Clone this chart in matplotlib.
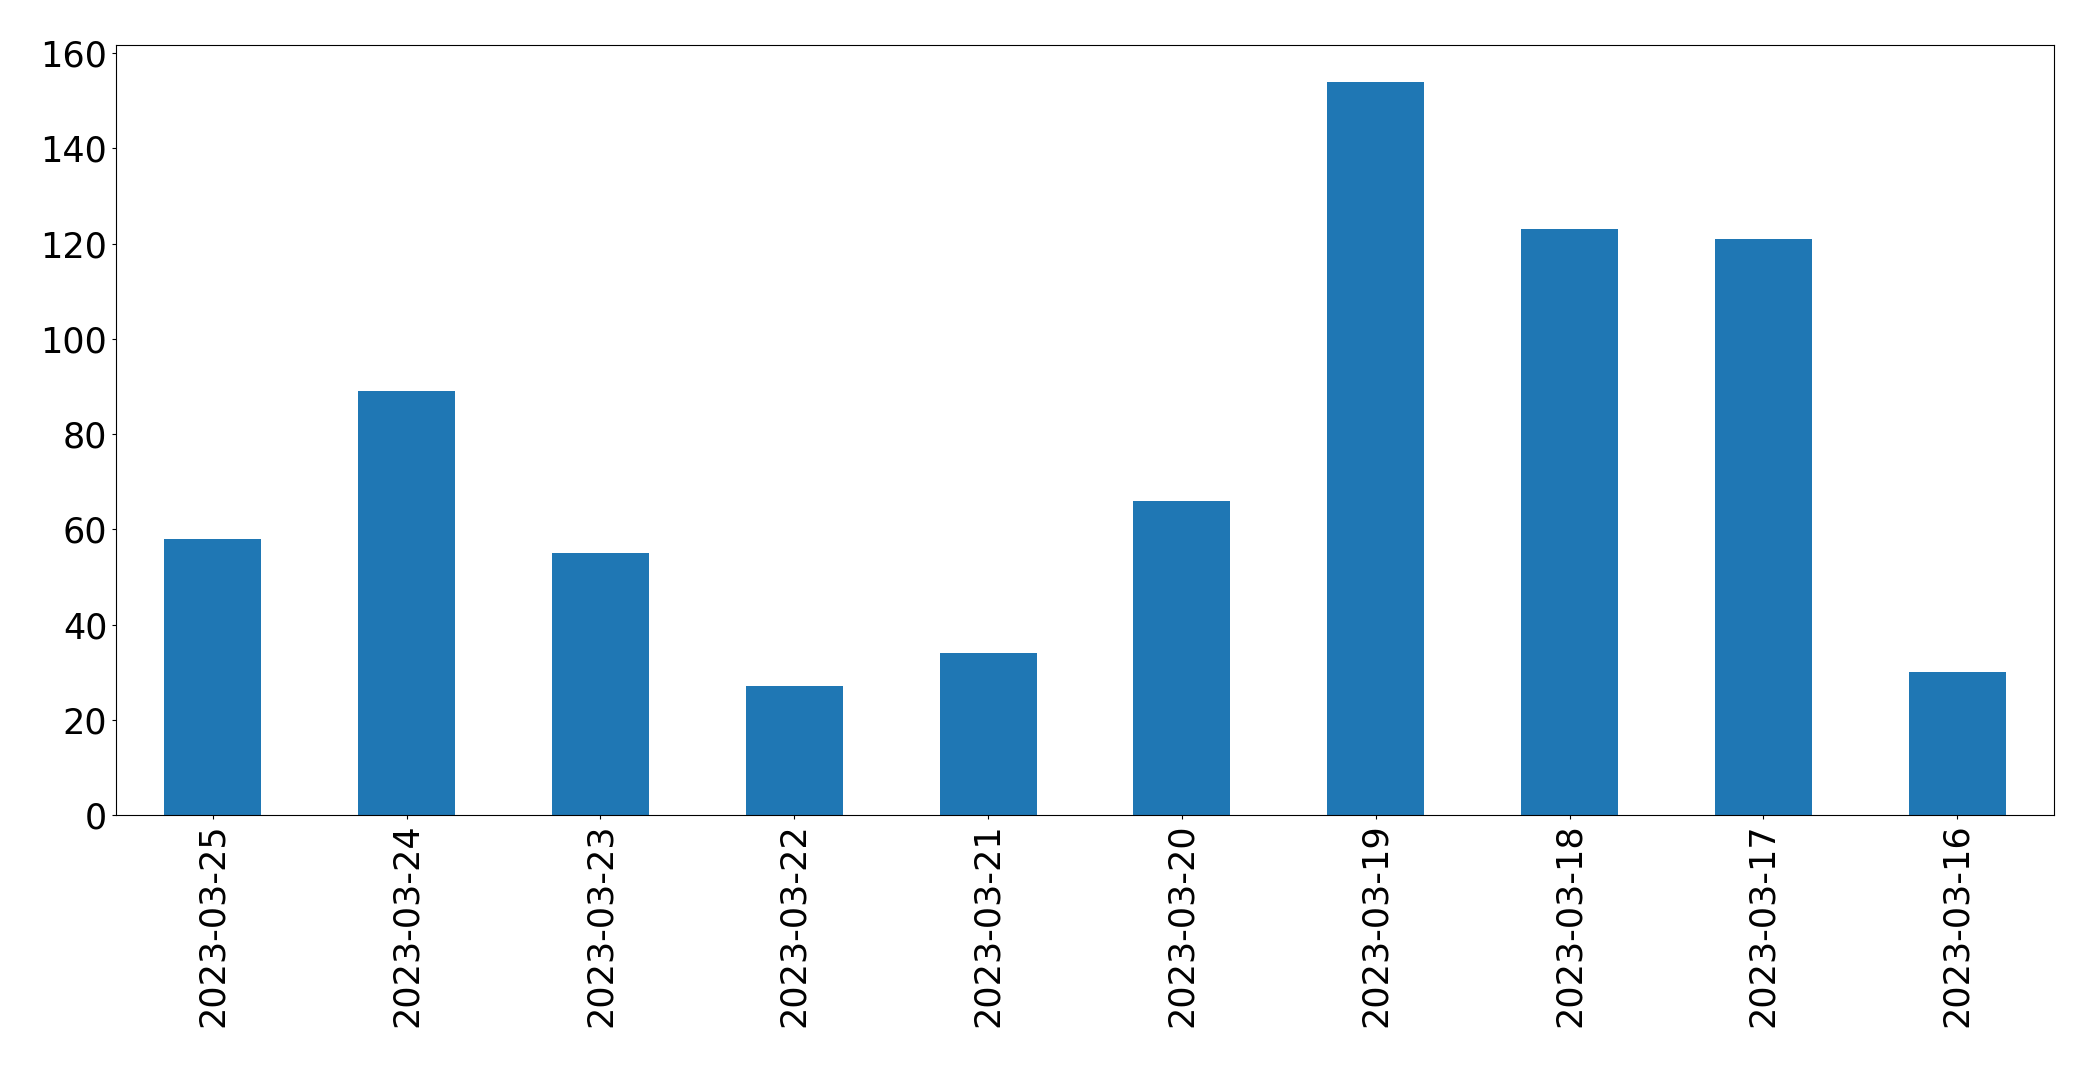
import matplotlib
matplotlib.use("Agg")
import matplotlib.pyplot as plt
import pandas as pd

# Data
dates = ["2023-03-25", "2023-03-24", "2023-03-23", "2023-03-22", "2023-03-21",
         "2023-03-20", "2023-03-19", "2023-03-18", "2023-03-17", "2023-03-16"]
counts = [58, 89, 55, 27, 34, 66, 154, 123, 121, 30]

s = pd.Series(counts, index=dates)

fig = plt.figure(figsize=(20.93, 10.67), dpi=100)
ax = fig.add_subplot(111)
s.plot(kind="bar", ax=ax, color="#1f77b4")

ax.tick_params(axis="both", labelsize=25.2, length=2.7)
fig.subplots_adjust(left=0.0554, right=0.9814, top=0.9578, bottom=0.2362)

plt.savefig("out.png", dpi=100)
